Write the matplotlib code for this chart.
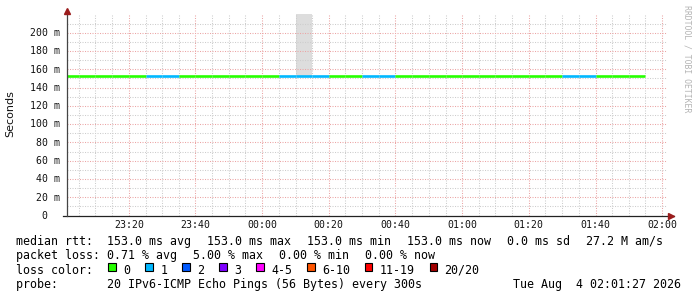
import matplotlib
matplotlib.use("Agg")
import matplotlib.pyplot as plt
import matplotlib.dates as mdates
import matplotlib.transforms as mtransforms
from matplotlib.patches import Rectangle
from datetime import datetime, timedelta

# ---- data -------------------------------------------------------------
# 5-minute RRD steps, start time of every step
first_step = datetime(2026, 8, 3, 23, 0)
step_minutes = 5

median_ms = [
    153.0, 153.0, 153.0, 153.0, 153.0, 153.0, 153.0, 153.0, 153.0, 153.0,
    153.0, 153.0, 153.0, 153.0, 153.0, 153.0, 153.0, 153.0, 153.0, 153.0,
    153.0, 153.0, 153.0, 153.0, 153.0, 153.0, 153.0, 153.0, 153.0, 153.0,
    153.0, 153.0, 153.0, 153.0, 153.0,
]
# pings lost out of 20 per step
lost_pings = [
    0, 0, 0, 0, 0, 1, 1, 0, 0, 0,
    0, 0, 0, 1, 1, 1, 0, 0, 1, 1,
    0, 0, 0, 0, 0, 0, 0, 0, 0, 0,
    1, 1, 0, 0, 0,
]
# highest ping of each step (smoke drawn between median and this)
max_ping_ms = [
    153.0, 153.0, 153.0, 153.0, 153.0, 153.0, 153.0, 153.0, 153.0, 153.0,
    153.0, 153.0, 153.0, 153.0, 260.0, 153.0, 153.0, 153.0, 153.0, 153.0,
    153.0, 153.0, 153.0, 153.0, 153.0, 153.0, 153.0, 153.0, 153.0, 153.0,
    153.0, 153.0, 153.0, 153.0, 153.0,
]

loss_labels = ["0", "1", "2", "3", "4-5", "6-10", "11-19", "20/20"]
loss_upper = [0, 1, 2, 3, 5, 10, 19, 20]
loss_colors = ["#26ff00", "#00b8ff", "#0059ff", "#7e00ff",
               "#ff00ff", "#ff5500", "#ff0000", "#a10000"]

y_ticks_ms = [0, 20, 40, 60, 80, 100, 120, 140, 160, 180, 200]
y_tick_labels = ["0", "20 m", "40 m", "60 m", "80 m", "100 m", "120 m",
                 "140 m", "160 m", "180 m", "200 m"]

view_end = datetime(2026, 8, 4, 2, 1, 27)
view_start = view_end - timedelta(hours=3)

rtt_items = ["median rtt:  ", "153.0 ms avg  ", "153.0 ms max  ",
             "153.0 ms min  ", "153.0 ms now  ", "0.0 ms sd  ", "27.2 M am/s"]
loss_items = ["packet loss: ", "0.71 % avg  ", "5.00 % max  ",
              "0.00 % min  ", "0.00 % now"]
color_title = "loss color:"
probe_row = "probe:       20 IPv6-ICMP Echo Pings (56 Bytes) every 300s"
stamp = "Tue Aug  4 02:01:27 2026"

# ---- figure -----------------------------------------------------------
W, H = 697, 297
fig = plt.figure(figsize=(W / 100, H / 100), dpi=100)
fig.patch.set_facecolor("white")

ax_l, ax_r, ax_t, ax_b = 67, 667, 14.4, 215.5
ax = fig.add_axes([ax_l / W, 1 - ax_b / H, (ax_r - ax_l) / W, (ax_b - ax_t) / H])
ax.set_facecolor("white")
ax.set_xlim(view_start, view_end)
ax.set_ylim(0, 220)
for s in ax.spines.values():
    s.set_visible(False)
ax.set_xticks([])
ax.set_yticks([])

MONO = "DejaVu Sans Mono"
GRID_MINOR = "#cdcdcd"
GRID_MAJOR = "#eba5a5"
dots = (0, (1.0, 1.4))

step = timedelta(minutes=step_minutes)
starts = [first_step + i * step for i in range(len(median_ms))]

# smoke
for t0, med, top in zip(starts, median_ms, max_ping_ms):
    if top > med:
        ax.fill_between([t0, t0 + step], [med, med], [top, top],
                        color="#dddddd", lw=0, zorder=1)

# grid
t = datetime(2026, 8, 3, 23, 5)
while t <= view_end:
    major = (t.minute % 20 == 0)
    ax.axvline(t, color=GRID_MAJOR if major else GRID_MINOR, lw=0.75,
               linestyle=dots, zorder=2)
    t += timedelta(minutes=5)
for v in range(10, 220, 10):
    ax.axhline(v, color=GRID_MAJOR if v % 20 == 0 else GRID_MINOR, lw=0.75,
               linestyle=dots, zorder=2)

# median line coloured by loss
def loss_color(n):
    for up, c in zip(loss_upper, loss_colors):
        if n <= up:
            return c
    return loss_colors[-1]

for t0, med, n in zip(starts, median_ms, lost_pings):
    ax.hlines(med, max(t0, view_start), t0 + step, colors=loss_color(n),
              lw=1.9, zorder=4, capstyle="butt")

# axes with arrows
ARROW = "#9b1c1c"
ax.plot([-4 / 600, 1.011], [0, 0], transform=ax.transAxes, color="#222222",
        lw=0.9, clip_on=False, zorder=5)
ax.plot([0, 0], [-0.0, 1.02], transform=ax.transAxes, color="#444444",
        lw=0.9, clip_on=False, zorder=5)
ax.plot([1.0065], [0], marker=">", ms=4.2, color=ARROW, transform=ax.transAxes,
        clip_on=False, zorder=6, mec=ARROW)
ax.plot([0], [1.018], marker="^", ms=4.2, color=ARROW, transform=ax.transAxes,
        clip_on=False, zorder=6, mec=ARROW)

# x tick labels
t = datetime(2026, 8, 3, 23, 20)
xoff = mtransforms.blended_transform_factory(ax.transData, fig.transFigure)
while t <= view_end:
    ax.text(mdates.date2num(t), 1 - 228.3 / H, t.strftime("%H:%M"),
            transform=xoff, ha="center", va="baseline", family=MONO,
            fontsize=7.1, color="#111111")
    t += timedelta(minutes=20)

# y tick labels
ytr = mtransforms.blended_transform_factory(fig.transFigure, ax.transData) + \
    mtransforms.ScaledTranslation(0, -3.3 / 100, fig.dpi_scale_trans)
for v, lab in zip(y_ticks_ms, y_tick_labels):
    xr = 59.5 if lab.endswith("m") else 47.5
    ax.text(xr / W, v, lab, transform=ytr, ha="right", va="baseline",
            family=MONO, fontsize=7.1, color="#111111")

fig.text(10.5 / W, 1 - 113.5 / H, "Seconds", rotation=90, ha="center",
         va="center", family="DejaVu Sans", fontsize=8, color="#111111")
fig.text(687 / W, 1 - 5 / H, "RRDTOOL / TOBI OETIKER", rotation=-90,
         ha="center", va="top", family=MONO, fontsize=5.9, color="#b4b4b4")

# legend block
FS = 8.37
char_w = 7.0
item_gap = 2.0
baselines = [245.0, 259.3, 273.6, 288.0]


def put_items(items, yb):
    x = 16.0
    for i, it in enumerate(items):
        if i >= 2:
            x += item_gap
        fig.text(x / W, 1 - yb / H, it, ha="left", va="baseline",
                 family=MONO, fontsize=FS, color="black")
        x += len(it) * char_w


put_items(rtt_items, baselines[0])
put_items(loss_items, baselines[1])
put_items([color_title], baselines[2])
put_items([probe_row], baselines[3])
fig.text(681 / W, 1 - baselines[3] / H, stamp, ha="right", va="baseline",
         family=MONO, fontsize=FS, color="black")

sx = 108.3
for lab, col in zip(loss_labels, loss_colors):
    fig.patches.append(Rectangle((sx / W, 1 - 271.2 / H), 7.6 / W, 7.8 / H,
                                 transform=fig.transFigure, facecolor=col,
                                 edgecolor="black", lw=0.8))
    tx = sx + 15
    fig.text(tx / W, 1 - baselines[2] / H, lab, ha="left", va="baseline",
             family=MONO, fontsize=FS, color="black")
    sx = tx + len(lab) * 6.95 + 15

fig.savefig("out.png", dpi=100)
